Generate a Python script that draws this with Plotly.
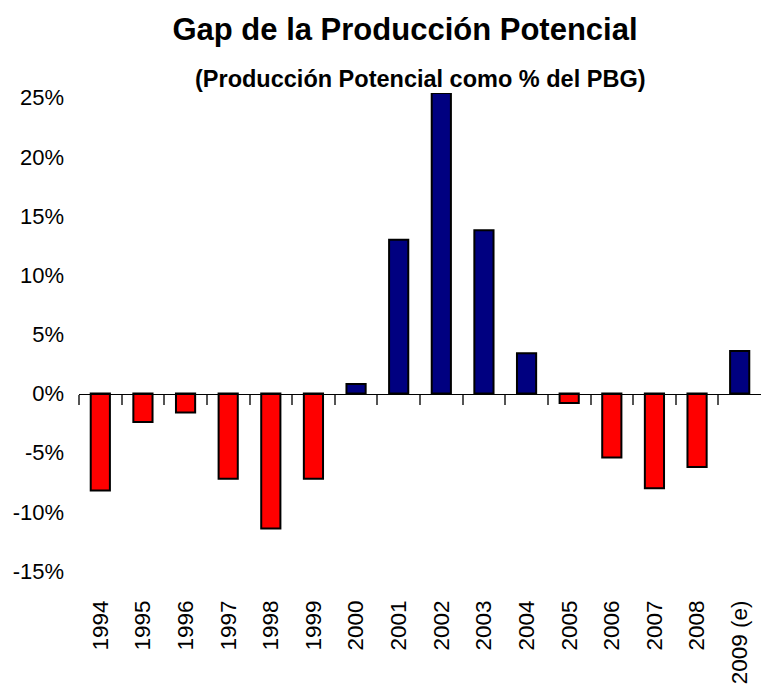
import plotly.graph_objects as go

# Datos del grafico (Gap de la produccion potencial, % del PBG)
years = ['1994', '1995', '1996', '1997', '1998', '1999', '2000', '2001',
         '2002', '2003', '2004', '2005', '2006', '2007', '2008', '2009 (e)']
gap = [-8.2, -2.4, -1.6, -7.2, -11.4, -7.2, 0.8, 13.0,
       25.4, 13.8, 3.4, -0.8, -5.4, -8.0, -6.2, 3.6]
y_ticks = [-15, -10, -5, 0, 5, 10, 15, 20, 25]
y_labels = ['-15%', '-10%', '-5%', '0%', '5%', '10%', '15%', '20%', '25%']

y_min, y_max = -15, 25.4
font = 'Liberation Sans, Arial, sans-serif'

colors = ['#000080' if v >= 0 else '#FF0000' for v in gap]
idx = list(range(len(years)))

fig = go.Figure()
fig.add_trace(go.Bar(x=years, y=gap, marker=dict(color=colors, line=dict(color='black', width=2)),
                     width=0.45, hoverinfo='x+y'))
# traza invisible para el eje de marcas sobre la linea del cero
fig.add_trace(go.Scatter(x=idx, y=gap, xaxis='x2', mode='markers',
                         marker=dict(opacity=0), hoverinfo='skip'))

zero_pos = (0 - y_min) / (y_max - y_min)

fig.update_layout(
    width=761, height=688,
    margin=dict(l=79, r=0, t=93, b=117),
    paper_bgcolor='white', plot_bgcolor='white',
    showlegend=False,
    font=dict(family=font, color='black'),
    title=dict(text='<b>Gap de la Producción Potencial</b>', x=405 / 761, xanchor='center',
               y=1 - 29 / 688, yanchor='middle', yref='container',
               font=dict(size=31, family=font, color='black')),
    xaxis=dict(type='category', range=[-0.5, 15.5], tickangle=-90, showline=False,
               ticks='', showgrid=False, zeroline=False, ticklabelstandoff=24, automargin=False,
               tickfont=dict(size=22.5, family=font, color='black')),
    xaxis2=dict(type='linear', overlaying='x', anchor='free', position=zero_pos, side='bottom',
                range=[-0.5, len(years) - 0.5], tickmode='array',
                tickvals=[i - 0.5 for i in idx],
                showline=True, linecolor='black', linewidth=1, ticks='outside', ticklen=10,
                tickcolor='#555', tickwidth=1.5, showticklabels=False,
                showgrid=False, zeroline=False, automargin=False),
    yaxis=dict(range=[y_min, y_max], tickmode='array', tickvals=y_ticks, ticktext=y_labels,
               showgrid=False, showline=False, zeroline=False, ticks='', ticklabelstandoff=14,
               automargin=False, tickfont=dict(size=22, family=font, color='black')),
    annotations=[dict(text='<b>(Producción Potencial como % del PBG)</b>', xref='paper', yref='paper',
                      x=0.5, y=1 + (93 - 79) / 478, xanchor='center', yanchor='middle',
                      showarrow=False, font=dict(size=23.5, family=font, color='black'))],
)

fig.write_html('out.html', config={'displayModeBar': False},
               post_script="document.body.style.margin='0';")
